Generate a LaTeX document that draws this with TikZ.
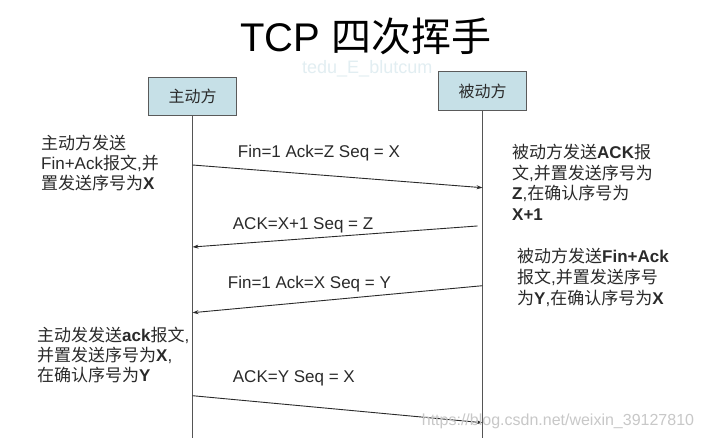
\documentclass[tikz,border=0pt]{standalone}
\usepackage{fontspec}
\setmainfont{Liberation Sans}
\newfontfamily\cjk{Noto Sans CJK SC}
\usetikzlibrary{arrows.meta}
\definecolor{boxfill}{HTML}{C6E0E7}
\definecolor{boxline}{HTML}{5A5A5A}
\definecolor{txtgray}{HTML}{2A2A2A}
\definecolor{lifegray}{HTML}{555555}
\definecolor{wmblue}{HTML}{E2EEF2}
\definecolor{wmgray}{HTML}{C8C8C8}
\newcommand\zh[1]{{\cjk #1}}
\tikzset{
  party/.style={draw=boxline, line width=1.2pt, fill=boxfill, inner sep=0pt,
    font=\fontsize{16}{18}\selectfont\cjk, text=txtgray},
  lifeline/.style={draw=lifegray, line width=1.3pt},
  msg/.style={draw=txtgray, line width=0.9pt, -{Stealth[length=6pt,width=4pt]}},
  txt/.style={anchor=base west, inner sep=0pt, font=\fontsize{17}{20}\selectfont, text=txtgray},
  msglabel/.style={anchor=base west, inner sep=0pt, font=\fontsize{17}{20}\selectfont, text=txtgray},
}
\begin{document}
\begin{tikzpicture}[x=1pt,y=-1pt]
\useasboundingbox (0,0) rectangle (702,438);
\fill[white] (0,0) rectangle (702,438);

% title and watermarks
\node[anchor=base, inner sep=0pt, font=\fontsize{40}{44}\selectfont, text=black] (title) at (366,51.7) {TCP \zh{四次挥手}};
\node[anchor=base west, inner sep=0pt, font=\fontsize{18}{20}\selectfont, text=wmblue] (wm1) at (302,74) {tedu\_E\_blutcum};

% parties
\node[party, minimum width=88pt, minimum height=38pt] (A) at (192.5,96.2) {主动方};
\node[party, minimum width=88pt, minimum height=39pt] (B) at (482.5,91.3) {被动方};

\coordinate (Aend) at (192.5,438);
\coordinate (Bend) at (482.5,438);
\draw[lifeline] (A.south) -- (Aend);
\draw[lifeline] (B.south) -- (Bend);

% message end points on the lifelines
\coordinate (a1) at (192.5,165);   \coordinate (b1) at (482.5,187.7);
\coordinate (b2) at (482.5,225.6); \coordinate (a2) at (192.5,247);
\coordinate (b3) at (482.5,285.7); \coordinate (a3) at (192.5,312.7);
\coordinate (a4) at (192.5,395.7); \coordinate (b4) at (482.5,422.7);

\draw[msg] (a1) -- (b1);
\draw[msg, shorten <=5pt] (b2) -- (a2);
\draw[msg] (b3) -- (a3);
\draw[msg] (a4) -- (b4);

% message labels
\node[msglabel] (m1) at (237.7,157.7) {Fin=1 Ack=Z Seq = X};
\node[msglabel] (m2) at (232.7,230) {ACK=X+1 Seq = Z};
\node[msglabel] (m3) at (227.7,289) {Fin=1 Ack=X Seq = Y};
\node[msglabel] (m4) at (232.7,383) {ACK=Y Seq = X};

% left notes
\node[txt] (l1a) at (41,149.5) {\zh{主动方发送}};
\node[txt] (l1b) at (41,169.5) {Fin+Ack\zh{报文},\zh{并}};
\node[txt] (l1c) at (41,190) {\zh{置发送序号为}\textbf{X}};

\node[txt] (l2a) at (37,341.5) {\zh{主动发发送}\textbf{ack}\zh{报文},};
\node[txt] (l2b) at (37,361.5) {\zh{并置发送序号为}\textbf{X},};
\node[txt] (l2c) at (37,382) {\zh{在确认序号为}\textbf{Y}};

% right notes
\node[txt] (r1a) at (512,159) {\zh{被动方发送}\textbf{ACK}\zh{报}};
\node[txt] (r1b) at (512,179.5) {\zh{文},\zh{并置发送序号为}};
\node[txt] (r1c) at (512,200) {\textbf{Z},\zh{在确认序号为}};
\node[txt] (r1d) at (512,221) {\textbf{X+1}};

\node[txt] (r2a) at (517,263) {\zh{被动方发送}\textbf{Fin+Ack}};
\node[txt] (r2b) at (517,284) {\zh{报文},\zh{并置发送序号}};
\node[txt] (r2c) at (517,305) {\zh{为}\textbf{Y},\zh{在确认序号为}\textbf{X}};

\node[anchor=base west, inner sep=0pt, font=\fontsize{16}{18}\selectfont, text=wmgray] (wm2) at (421.7,426) {https://blog.csdn.net/weixin\_39127810};
\end{tikzpicture}
\end{document}
